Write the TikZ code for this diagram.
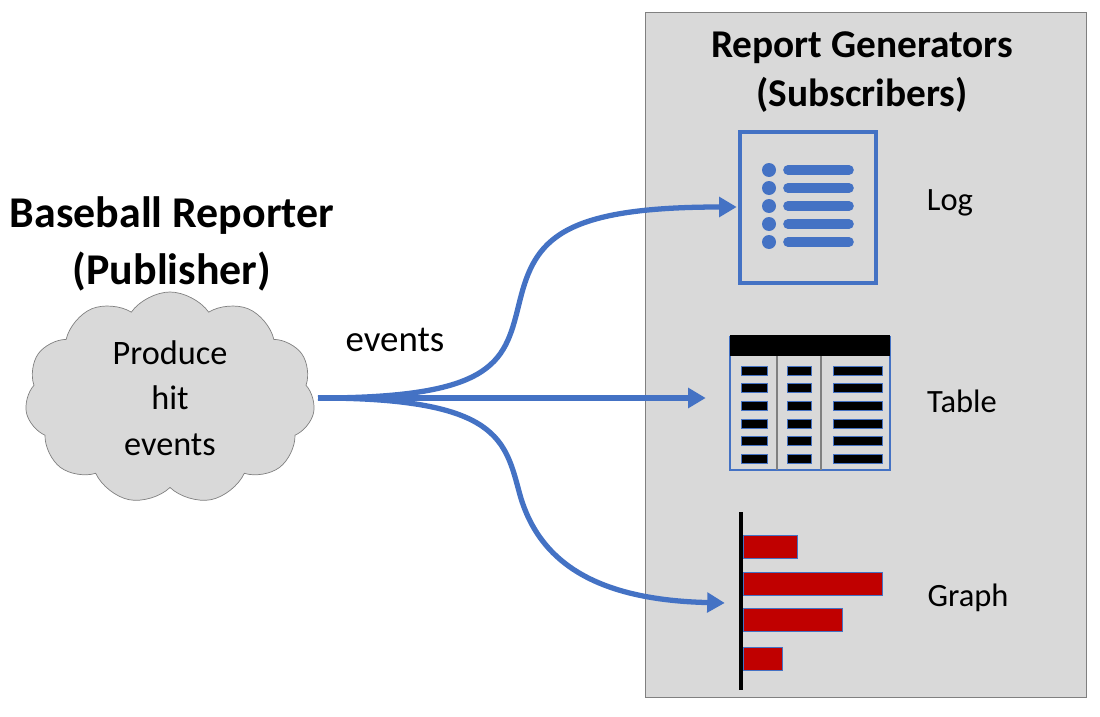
\documentclass[tikz,border=0pt]{standalone}
\usepackage{fontspec}
\setmainfont{Carlito}
\usetikzlibrary{shapes.symbols,arrows.meta}
\definecolor{panelgray}{HTML}{D9D9D9}
\definecolor{linkblue}{HTML}{4472C4}
\definecolor{barred}{HTML}{C00000}
\tikzset{
  link/.style={draw=linkblue,line width=3pt,-{Triangle[length=10pt,width=11pt]}},
  label/.style={font=\fontsize{18.5}{22}\selectfont},
  headline/.style={font=\bfseries\fontsize{22.4}{28}\selectfont,align=center},
}
\begin{document}
\begin{tikzpicture}[x=0.02cm,y=-0.02cm]
        \useasboundingbox (0,0) rectangle (1100,717);
        % subscriber panel
        \draw[fill=panelgray,draw=gray] (645,12) rectangle (1086,697);
        \node[headline] (subs) at (862,72) {Report Generators\\(Subscribers)};
        % publisher
        \node[headline,font=\bfseries\fontsize{25}{32}\selectfont] (pub) at (172,244) {Baseball Reporter\\(Publisher)};
        \node[cloud,cloud puffs=11,cloud puff arc=110,aspect=1.5,fill=panelgray,draw=gray,
              minimum width=5.8cm,minimum height=3.8cm,
              align=center,font=\fontsize{19.5}{26}\selectfont] (cloud) at (170,398) {Produce\\hit\\events};
        \coordinate (src) at (318,398);
        % log icon
        \draw[linkblue,line width=2.4pt,fill=panelgray] (740,132) rectangle (876,283);
        \node[inner sep=0pt] (logbox) at (738,207) {};
        \foreach \y in {170,188,206,224,242} {
            \fill[linkblue] (769,\y) circle (7);
            \draw[linkblue,line width=5.5pt,line cap=round] (788,\y) -- (849,\y);
        }
        \node[label] (log) at (950,203) {Log};
        % table icon
        \draw[linkblue,line width=1pt,fill=panelgray] (730,337) rectangle (890,470);
        \fill (730,335) rectangle (890,356);
        \draw[gray,line width=1.2pt] (777,356) -- (777,470) (821,356) -- (821,470);
        \foreach \y in {366,383,401,419,436,454} {
            \fill[draw=linkblue,fill=black] (741,\y) rectangle (767,\y+9);
            \fill[draw=linkblue,fill=black] (787,\y) rectangle (811,\y+9);
            \fill[draw=linkblue,fill=black] (833,\y) rectangle (882,\y+9);
        }
        \node[inner sep=0pt] (tablebox) at (707,398) {};
        \node[label] (table) at (962,401) {Table};
        % graph icon
        \draw[line width=2.5pt] (741,512) -- (741,690);
        \foreach \y/\w in {535/797,572/882,608/842,647/782} {
            \draw[linkblue,fill=barred] (743,\y) rectangle (\w,\y+23);
        }
        \node[inner sep=0pt] (graphbox) at (726,603) {};
        \node[label] (graph) at (968,598) {Graph};
        % event links
        \node[font=\fontsize{21}{24}\selectfont] (ev) at (395,340) {events};
        \draw[link] (src) .. controls (500,398) and (505,360) .. (520,300)
                          .. controls (535,240) and (560,207) .. (logbox);
        \draw[link] (src) -- (tablebox);
        \draw[link] (src) .. controls (500,398) and (505,440) .. (520,495)
                          .. controls (540,565) and (600,600) .. (graphbox);
\end{tikzpicture}
\end{document}
